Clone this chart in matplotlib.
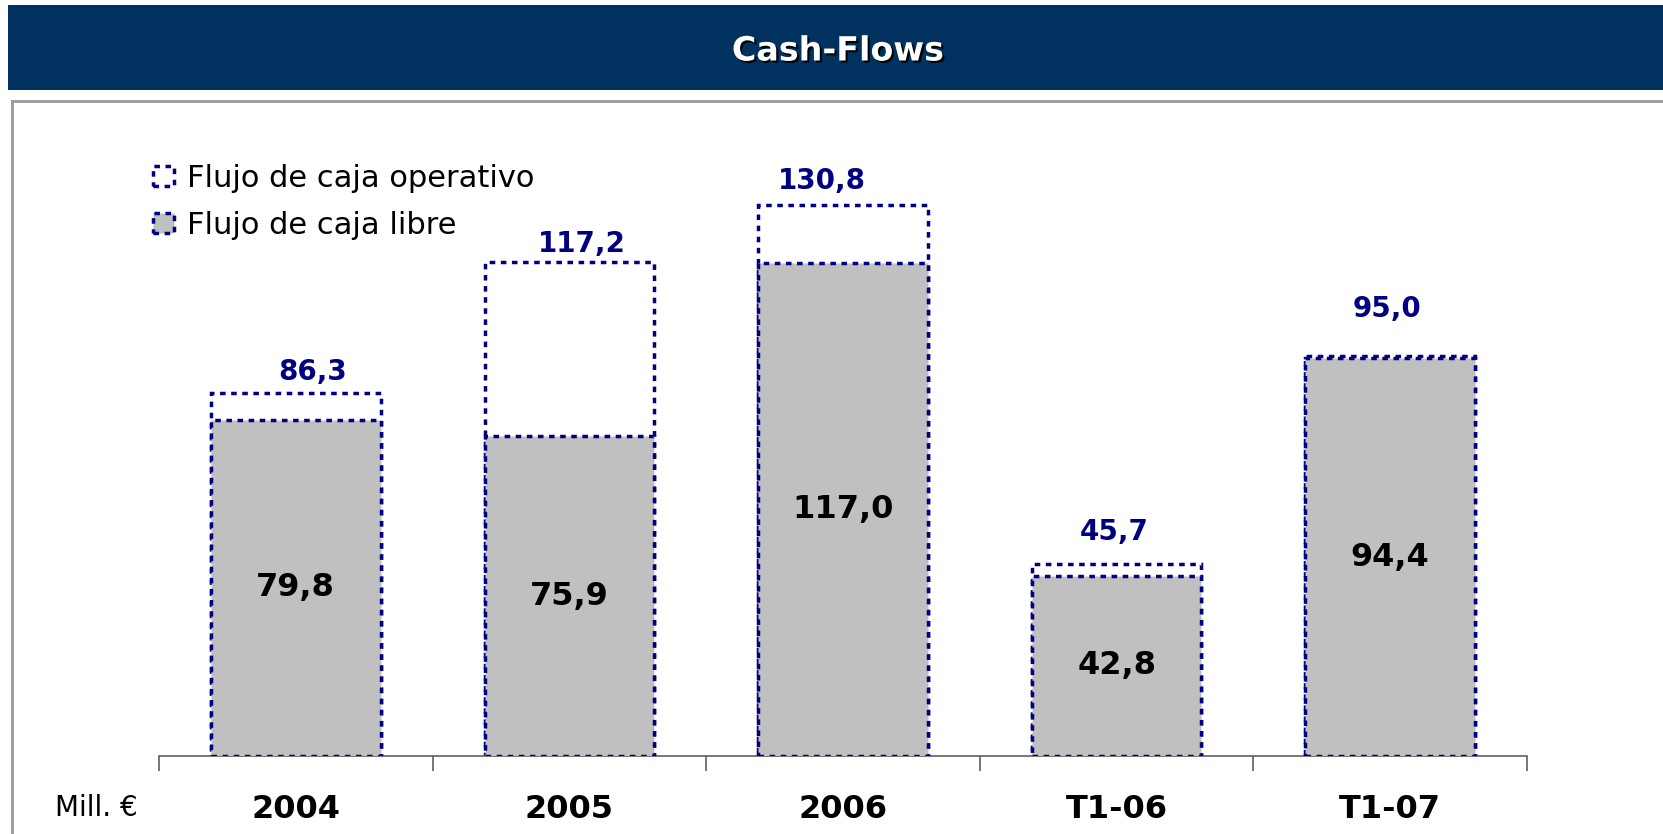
import matplotlib
matplotlib.use("Agg")
import matplotlib.pyplot as plt
import matplotlib.patheffects as pe
from matplotlib.patches import Rectangle
from matplotlib.lines import Line2D

# -----------------------------------
# Data (Mill. EUR)
# -----------------------------------
periods = ["2004", "2005", "2006", "T1-06", "T1-07"]
operating_cf = [86.3, 117.2, 130.8, 45.7, 95.0]
free_cf = [79.8, 75.9, 117.0, 42.8, 94.4]

# label nudges for the operating figures (pixels: dx, dy above bar top)
top_dx = [17, 12, -21, -2, -3]
top_dy = [21, 18, 24, 32, 47]

NAVY = "#000080"
HEADER = "#00315F"
GREY = "#C0C0C0"

W, H = 1663, 834
fig = plt.figure(figsize=(W / 100, H / 100), dpi=100)
fig.patch.set_facecolor("white")


def fx(px):
    return px / W


def fy(py):
    return 1 - py / H


# -----------------------------------
# Header band and frame
# -----------------------------------
fig.patches.append(Rectangle((fx(8), fy(90)), 1, 85 / H, transform=fig.transFigure,
                             facecolor=HEADER, edgecolor="none", zorder=0))
fig.text(fx(838), fy(51), "Cash-Flows", color="white", fontsize=24, fontweight="bold",
         ha="center", va="center",
         path_effects=[pe.withSimplePatchShadow(offset=(1.5, -1.5), shadow_rgbFace="black", alpha=0.9)])
fig.lines.append(Line2D([fx(12), 1], [fy(101), fy(101)], transform=fig.transFigure,
                        color="#9A9A9A", lw=2))
fig.lines.append(Line2D([fx(12), fx(12)], [fy(101), 0], transform=fig.transFigure,
                        color="#9A9A9A", lw=2))

# -----------------------------------
# Bars
# -----------------------------------
base_px = 756
px_per_unit = 4.211
ymax = 140
ax = fig.add_axes([fx(159), fy(base_px), fx(1527) - fx(159), ymax * px_per_unit / H])
ax.set_xlim(-0.5, len(periods) - 0.5)
ax.set_ylim(0, ymax)

x = list(range(len(periods)))
bw = 0.62
dash = (0, (1.6, 1.6))
op_bars = ax.bar(x, operating_cf, width=bw, color="white", edgecolor=NAVY,
                 linewidth=2.5, linestyle=dash, label="Flujo de caja operativo", zorder=2)
free_bars = ax.bar(x, free_cf, width=bw, color=GREY, edgecolor=NAVY,
                   linewidth=2.5, linestyle=dash, label="Flujo de caja libre", zorder=3)

for i, (op, fr) in enumerate(zip(operating_cf, free_cf)):
    ax.annotate(f"{op:.1f}".replace(".", ","), (i, op),
                xytext=(top_dx[i] * 0.72, top_dy[i] * 0.72), textcoords="offset points",
                ha="center", va="center", color=NAVY, fontsize=20, fontweight="bold")
    ax.text(i, fr / 2, f"{fr:.1f}".replace(".", ","), ha="center", va="center",
            color="black", fontsize=23, fontweight="bold", zorder=4)

# axis line with boundary ticks
for s in ["top", "right", "left"]:
    ax.spines[s].set_visible(False)
ax.spines["bottom"].set_color("#606060")
ax.spines["bottom"].set_linewidth(1.2)
ax.set_yticks([])
ax.set_xticks([i - 0.5 for i in range(len(periods) + 1)])
ax.set_xticklabels([])
ax.tick_params(axis="x", length=11, width=1.2, color="#606060", direction="out")
for i, p in enumerate(periods):
    ax.annotate(p, (i, 0), xytext=(0, -54 * 0.72), textcoords="offset points",
                ha="center", va="center", fontsize=23, fontweight="bold")

fig.text(fx(55), fy(808), "Mill. €", fontsize=20, ha="left", va="center")

ax.legend(handles=[op_bars, free_bars], loc="upper left", frameon=False,
          bbox_to_anchor=(fx(153), fy(164)), bbox_transform=fig.transFigure,
          fontsize=22, handlelength=0.7, handleheight=0.65, handletextpad=0.4,
          labelspacing=0.58, borderaxespad=0, borderpad=0)

fig.savefig("out.png", dpi=100)
